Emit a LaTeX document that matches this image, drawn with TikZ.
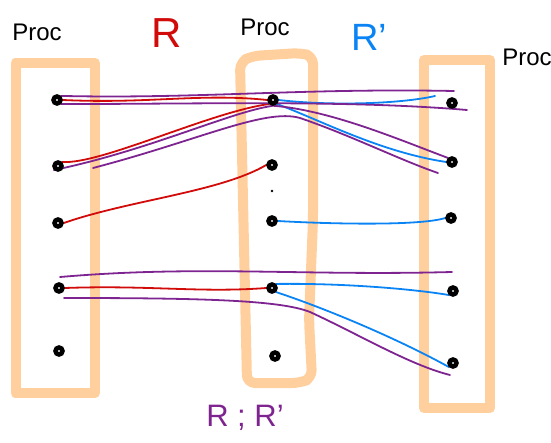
\documentclass[tikz,border=0pt]{standalone}
\usepackage{fontspec}
\setmainfont{Liberation Sans}
\usetikzlibrary{backgrounds}
\definecolor{peach}{HTML}{FFCF9E}
\definecolor{redR}{HTML}{D10A0A}
\definecolor{blueR}{HTML}{0A84F5}
\definecolor{purpleR}{HTML}{7E2490}

\begin{document}
\begin{tikzpicture}[x=1pt, y=-1pt,
  box/.style={line width=10pt, peach, line join=round, line cap=round},
  d/.style={circle, draw, line width=4.5pt, fill=white, inner sep=0pt, minimum size=7pt},
  rl/.style={line width=1.8pt, redR, line cap=round},
  bl/.style={line width=1.8pt, blueR, line cap=round},
  pl/.style={line width=1.8pt, purpleR, line cap=round},
  lbl/.style={font=\fontsize{24}{24}\selectfont}
]
  \useasboundingbox (0,0) rectangle (551,443);
  % labels
  \node[lbl] (procl) at (37,32) {Proc};
  \node[lbl] (procm) at (265,27) {Proc};
  \node[lbl] (procr) at (527,57) {Proc};
  \node[lbl, redR, font=\fontsize{42}{42}\selectfont] (rr) at (167,33) {R};
  \node[lbl, blueR, font=\fontsize{38}{38}\selectfont] (rp) at (369,37) {R'};
  \node[lbl, purpleR, font=\fontsize{31}{31}\selectfont] (rc) at (245,418) {R ; R'};
  % elements of the three sets
  \node[d] (l1) at (57,100) {};
  \node[d] (l2) at (58,166) {};
  \node[d] (l3) at (58,223) {};
  \node[d] (l4) at (59,288) {};
  \node[d] (l5) at (59,351) {};
  \node[d] (m1) at (273,100) {};
  \node[d] (m2) at (272,165) {};
  \node[d] (m3) at (272,221) {};
  \node[d] (m4) at (272,288) {};
  \node[d] (m5) at (275,356) {};
  \fill (272,191) circle (1.3pt);
  \node[d] (r1) at (452,103) {};
  \node[d] (r2) at (452,162) {};
  \node[d] (r3) at (451,218) {};
  \node[d] (r4) at (453,291) {};
  \node[d] (r5) at (453,363) {};
  % free ends
  \coordinate (b1e) at (435,96);
  \coordinate (pa) at (454,91);
  \coordinate (pb) at (467,110);
  \coordinate (ph) at (93,168);
  \coordinate (pd) at (438,173);
  \coordinate (p4a) at (60,277);
  \coordinate (p4b) at (452,272);
  \coordinate (p5a) at (64,298);
  \coordinate (p5b) at (450,375);
  \begin{scope}[on background layer]
    % the three boxes
    \draw[box] (15.5,63) rectangle (95,393);
    \draw[box, rounded corners=8pt] (247,383) -- (240,62) -- (252,56) -- (300,53) -- (313,56)
      -- (313,220) -- (309,320) -- (312,378) -- (300,383) -- cycle;
    \draw[box] (424,60) rectangle (490,408);
    % R
    \draw[rl] (l1.east) .. controls (150,104) and (200,93) .. (m1.west);
    \draw[rl] (l2.north east) .. controls (100,165) and (210,112) .. (m1.south west);
    \draw[rl] (l3.east) .. controls (130,200) and (220,192) .. (m2.west);
    \draw[rl] (l4.east) .. controls (150,285) and (200,293) .. (m4.west);
    % R'
    \draw[bl] (m1.east) .. controls (330,106) and (400,104) .. (b1e);
    \draw[bl] (m1.south east) .. controls (320,120) and (380,152) .. (r2.west);
    \draw[bl] (m3.east) .. controls (330,224) and (420,226) .. (r3.west);
    \draw[bl] (m4.north east) .. controls (350,283) and (420,290) .. (r4.south west);
    \draw[bl] (m4.south east) .. controls (330,310) and (400,340) .. (r5.south west);
    % R ; R'
    \draw[pl] (l1.north east) .. controls (200,99) and (300,88) .. (pa);
    \draw[pl] (l1.south east) .. controls (200,104) and (350,100) .. (pb);
    \draw[pl] (l2.south west) .. controls (150,150) and (230,112) .. (m1.south)
      .. controls (330,110) and (400,140) .. (r2.north west);
    \draw[pl] (ph) .. controls (200,140) and (265,108) .. (300,118)
      .. controls (350,135) and (400,160) .. (pd);
    \draw[pl] (p4a) .. controls (200,265) and (300,276) .. (p4b);
    \draw[pl] (p5a) .. controls (200,298) and (280,300) .. (310,312)
      .. controls (360,335) and (410,365) .. (p5b);
  \end{scope}
\end{tikzpicture}
\end{document}
